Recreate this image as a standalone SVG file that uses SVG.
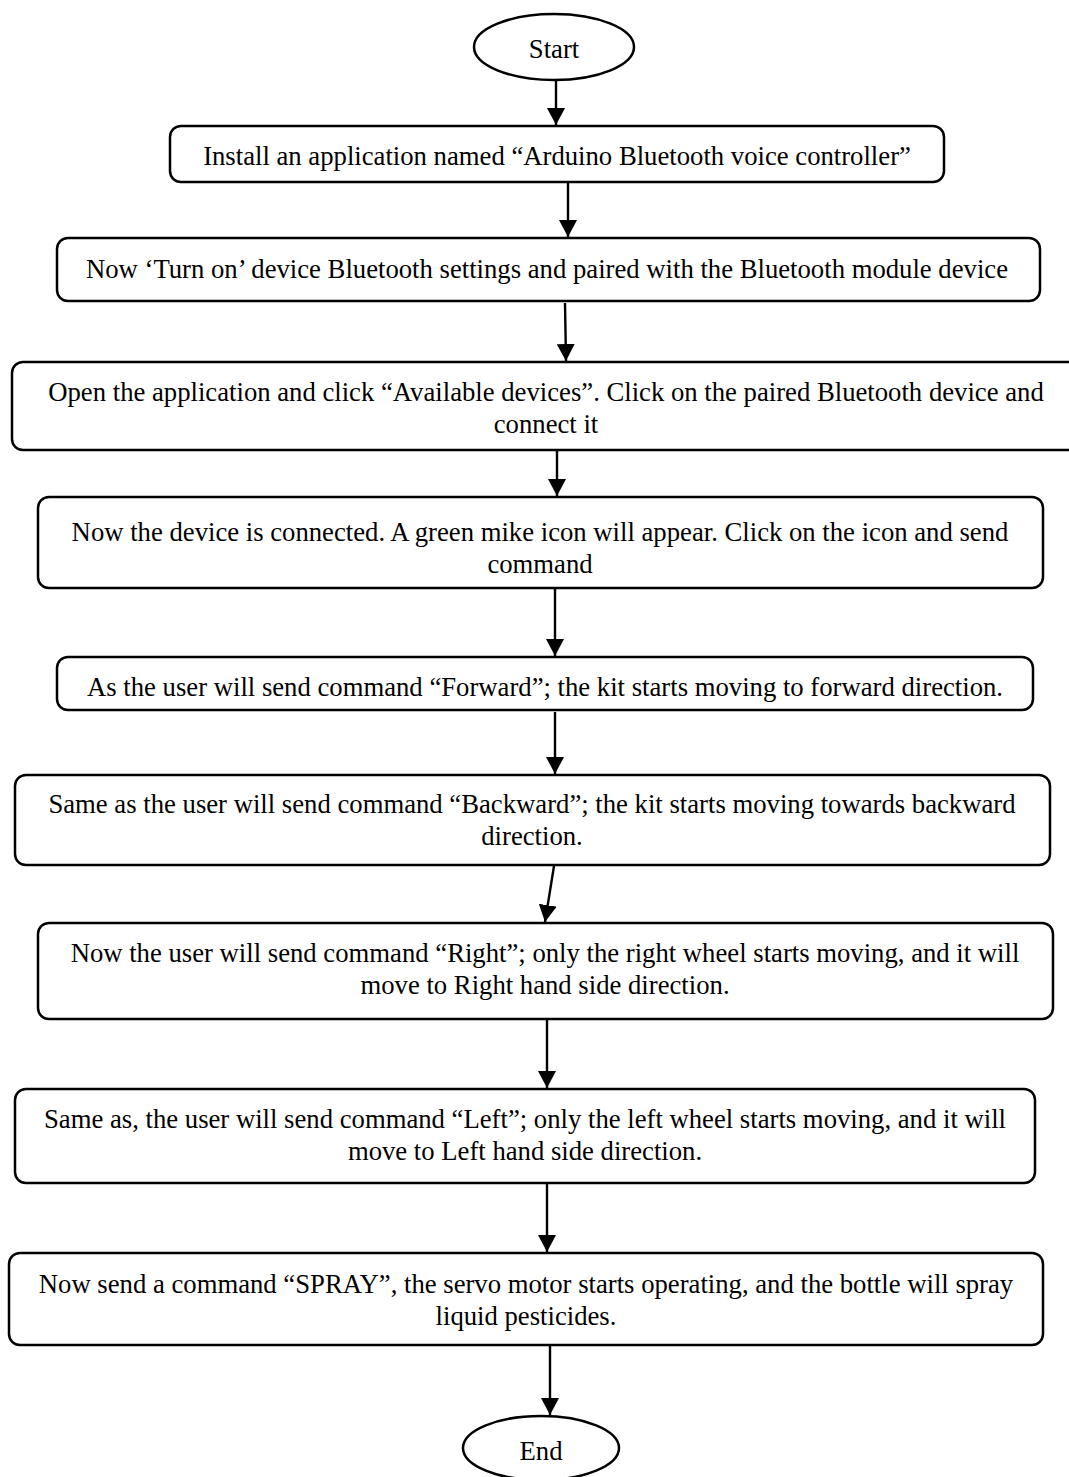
<svg xmlns="http://www.w3.org/2000/svg" width="1069" height="1477" viewBox="0 0 1069 1477">
<style>
.box{fill:#fff;stroke:#000;stroke-width:2.5}
.t{font-family:"Liberation Serif","Times New Roman",serif;font-size:26.7px;fill:#000;text-anchor:middle}
.c{stroke:#000;stroke-width:2.4;fill:none;marker-end:url(#ah)}
</style>
<defs>
<marker id="ah" viewBox="0 0 17 18" markerWidth="17" markerHeight="18" refX="17" refY="9" orient="auto" markerUnits="userSpaceOnUse">
<path d="M0,0 L17,9 L0,18 z" fill="#000"/>
</marker>
</defs>
<rect width="1069" height="1477" fill="#fff"/>
<g id="connectors">
<line class="c" x1="556" y1="80" x2="556" y2="125"/>
<line class="c" x1="568" y1="182" x2="568" y2="237"/>
<line class="c" x1="565" y1="303" x2="566" y2="361"/>
<line class="c" x1="557" y1="450" x2="557" y2="496"/>
<line class="c" x1="555" y1="588" x2="555" y2="656"/>
<line class="c" x1="555" y1="712" x2="555" y2="774"/>
<line class="c" x1="554" y1="866" x2="545" y2="922"/>
<line class="c" x1="547" y1="1019" x2="547" y2="1088"/>
<line class="c" x1="547" y1="1183" x2="547" y2="1252"/>
<line class="c" x1="550" y1="1345" x2="550" y2="1415"/>
</g>
<g id="start">
<ellipse class="box" cx="554" cy="47" rx="80" ry="33"/>
<text class="t" x="554" y="58">Start</text>
</g>
<g id="step1">
<rect class="box" x="170" y="126" width="774" height="56" rx="11"/>
<text class="t" x="557" y="165">Install an application named “Arduino Bluetooth voice controller”</text>
</g>
<g id="step2">
<rect class="box" x="57" y="238" width="983" height="63" rx="11"/>
<text class="t" x="547" y="278">Now ‘Turn on’ device Bluetooth settings and paired with the Bluetooth module device</text>
</g>
<g id="step3">
<rect class="box" x="12" y="362" width="1068" height="88" rx="11"/>
<text class="t" x="546" y="401">Open the application and click “Available devices”. Click on the paired Bluetooth device and</text>
<text class="t" x="546" y="433">connect it</text>
</g>
<g id="step4">
<rect class="box" x="38" y="497" width="1005" height="91" rx="11"/>
<text class="t" x="540" y="541">Now the device is connected. A green mike icon will appear. Click on the icon and send</text>
<text class="t" x="540" y="573">command</text>
</g>
<g id="step5">
<rect class="box" x="57" y="657" width="976" height="53" rx="11"/>
<text class="t" x="545" y="696">As the user will send command “Forward”; the kit starts moving to forward direction.</text>
</g>
<g id="step6">
<rect class="box" x="15" y="775" width="1035" height="90" rx="11"/>
<text class="t" x="532" y="813">Same as the user will send command “Backward”; the kit starts moving towards backward</text>
<text class="t" x="532" y="845">direction.</text>
</g>
<g id="step7">
<rect class="box" x="38" y="923" width="1015" height="96" rx="11"/>
<text class="t" x="545" y="962">Now the user will send command “Right”; only the right wheel starts moving, and it will</text>
<text class="t" x="545" y="994">move to Right hand side direction.</text>
</g>
<g id="step8">
<rect class="box" x="15" y="1089" width="1020" height="94" rx="11"/>
<text class="t" x="525" y="1128">Same as, the user will send command “Left”; only the left wheel starts moving, and it will</text>
<text class="t" x="525" y="1160">move to Left hand side direction.</text>
</g>
<g id="step9">
<rect class="box" x="9" y="1253" width="1034" height="92" rx="11"/>
<text class="t" x="526" y="1293">Now send a command “SPRAY”, the servo motor starts operating, and the bottle will spray</text>
<text class="t" x="526" y="1325">liquid pesticides.</text>
</g>
<g id="end">
<ellipse class="box" cx="541" cy="1448" rx="78" ry="32"/>
<text class="t" x="541" y="1460">End</text>
</g>
</svg>
